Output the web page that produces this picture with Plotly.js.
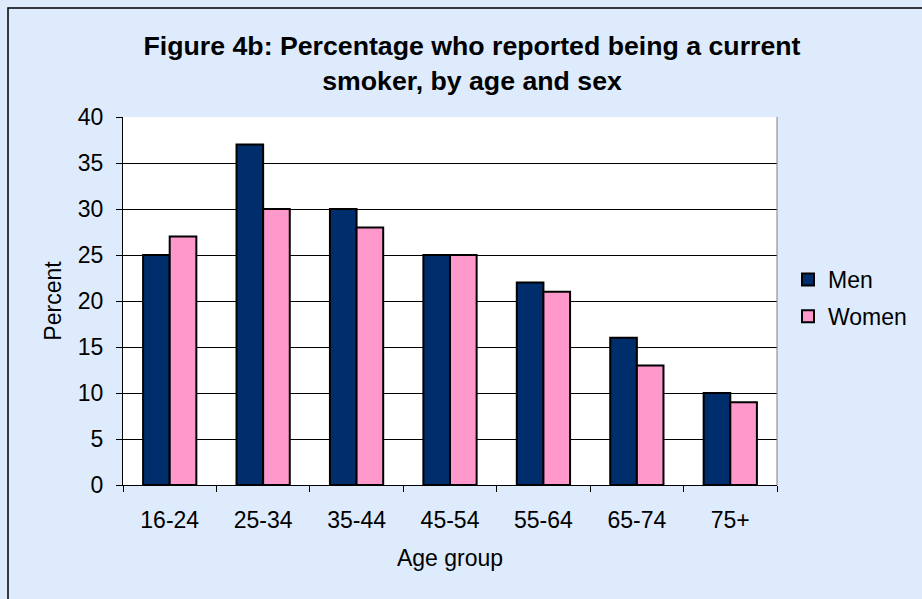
<!DOCTYPE html>
<html>
<head>
<meta charset="utf-8">
<script src="https://cdn.plot.ly/plotly-3.0.1.min.js"></script>
<style>html,body{margin:0;padding:0;background:#DDEBFD;}#chart{width:922px;height:599px;}</style>
</head>
<body>
<div id="chart"></div>
<script>
const ageGroups = ["16-24", "25-34", "35-44", "45-54", "55-64", "65-74", "75+"];
const menValues = [25, 37, 30, 25, 22, 16, 10];
const womenValues = [27, 30, 28, 25, 21, 13, 9];
const yTicks = [0, 5, 10, 15, 20, 25, 30, 35, 40];

const font = "Arial, 'Liberation Sans', sans-serif";
const traces = [
  {type: "bar", name: "Men", x: ageGroups, y: menValues, legendgroup: "a",
   marker: {color: "#002D6B", line: {color: "#000000", width: 2}}, hoverinfo: "y"},
  {type: "bar", name: "Women", x: ageGroups, y: womenValues, legendgroup: "b",
   marker: {color: "#FF99CC", line: {color: "#000000", width: 2}}, hoverinfo: "y"}
];

const layout = {
  width: 922, height: 599,
  paper_bgcolor: "#DDEBFD", plot_bgcolor: "#FFFFFF",
  margin: {l: 123, r: 145, t: 117, b: 114, autoexpand: false},
  font: {family: font, color: "#000000", size: 23},
  title: {text: "<b>Figure 4b: Percentage who reported being a current<br>smoker, by age and sex</b>",
          font: {family: font, size: 26.7, color: "#000000"},
          x: 472 / 922, xanchor: "center", xref: "container",
          y: 1 - 55 / 599, yanchor: "middle", yref: "container"},
  barmode: "group", bargap: 0.43, bargroupgap: 0,
  showlegend: true,
  legend: {xref: "container", yref: "container", x: 788 / 922, xanchor: "left",
           y: 1 - 298 / 599, yanchor: "middle", bgcolor: "rgba(0,0,0,0)",
           font: {family: font, size: 23}, traceorder: "grouped", tracegroupgap: 4,
           itemwidth: 30},
  xaxis: {type: "category", tickson: "boundaries", ticks: "outside", ticklen: 6, tickcolor: "#000",
          showline: true, linecolor: "#000", linewidth: 1, showgrid: false,
          tickfont: {family: font, size: 23}, ticklabelstandoff: 14,
          title: {text: "Age group", font: {family: font, size: 23}, standoff: 18}},
  yaxis: {range: [0, 40], tickvals: yTicks, ticks: "outside", ticklen: 6, tickcolor: "#000",
          showline: true, linecolor: "#000", linewidth: 1,
          showgrid: true, gridcolor: "#000000", gridwidth: 1, zeroline: false,
          tickfont: {family: font, size: 23}, ticklabelstandoff: 8,
          title: {text: "Percent", font: {family: font, size: 23}, standoff: 9}},
  shapes: [
    {type: "rect", xref: "paper", yref: "paper", x0: (8 - 123) / 654, x1: 1.5, y0: -0.5, y1: (485 - 8) / 368,
     line: {color: "#000000", width: 1.5}, fillcolor: "rgba(0,0,0,0)", layer: "below"},
    {type: "line", xref: "paper", yref: "paper", x0: 1, x1: 1, y0: 0, y1: 1, line: {color: "#808080", width: 1}}
  ]
};

Plotly.newPlot("chart", traces, layout, {displayModeBar: false});
</script>
</body>
</html>
